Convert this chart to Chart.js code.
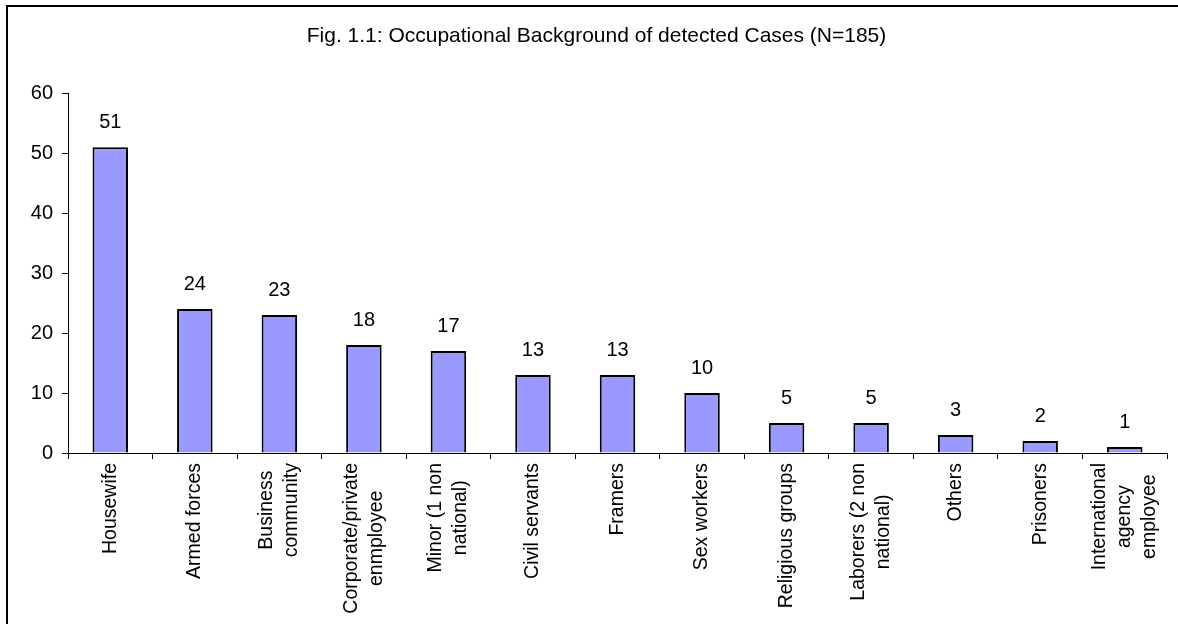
<!DOCTYPE html>
<html>
<head>
<meta charset="utf-8">
<script src="https://cdn.jsdelivr.net/npm/chart.js@4.4.0/dist/chart.umd.min.js"></script>
<style>
  html, body { margin: 0; padding: 0; background: #fff; overflow: hidden; }
  #wrap { position: relative; width: 1178px; height: 624px; }
  #frame { position: absolute; left: 6px; top: 5px; width: 1200px; height: 700px;
           border-left: 2px solid #000; border-top: 2px solid #000; }
  canvas { position: absolute; left: 0; top: 0; }
</style>
</head>
<body>
<div id="wrap">
  <div id="frame"></div>
  <canvas id="myChart" width="1178" height="624"></canvas>
</div>
<script>
const categories = [
  'Housewife',
  'Armed forces',
  ['Business', 'community'],
  ['Corporate/private', 'enmployee'],
  ['Minor (1 non', 'national)'],
  'Civil servants',
  'Framers',
  'Sex workers',
  'Religious groups',
  ['Laborers (2 non', 'national)'],
  'Others',
  'Prisoners',
  ['International', 'agency', 'employee']
]
const cases = [51, 24, 23, 18, 17, 13, 13, 10, 5, 5, 3, 2, 1]
const yTicks = [0, 10, 20, 30, 40, 50, 60]

const fontFamily = '"Liberation Sans", Arial, sans-serif'

// value labels above each bar
const valueLabels = {
  id: 'valueLabels',
  afterDatasetsDraw(chart) {
    const ctx = chart.ctx
    const meta = chart.getDatasetMeta(0)
    ctx.save()
    ctx.font = '20px ' + fontFamily
    ctx.fillStyle = '#000'
    ctx.textAlign = 'center'
    ctx.textBaseline = 'middle'
    meta.data.forEach((bar, i) => {
      ctx.fillText(String(cases[i]), bar.x, bar.y - 25)
    })
    ctx.restore()
  }
}

// rotated category labels, each line centred like the original
const categoryLabels = {
  id: 'categoryLabels',
  afterDraw(chart) {
    const ctx = chart.ctx
    const xs = chart.scales.x
    const lineGap = 25
    ctx.save()
    ctx.font = '19.5px ' + fontFamily
    ctx.fillStyle = '#000'
    ctx.textAlign = 'center'
    ctx.textBaseline = 'middle'
    categories.forEach((label, i) => {
      const lines = Array.isArray(label) ? label : [label]
      const w = Math.max(...lines.map(l => ctx.measureText(l).width))
      const px = xs.getPixelForTick(i)
      const cy = xs.top + 10 + w / 2
      lines.forEach((line, j) => {
        ctx.save()
        ctx.translate(px + (j - (lines.length - 1) / 2) * lineGap, cy)
        ctx.rotate(-Math.PI / 2)
        ctx.fillText(line, 0, 0)
        ctx.restore()
      })
    })
    ctx.restore()
  }
}

const ctx = document.getElementById('myChart')

new Chart(ctx, {
  type: 'bar',
  data: {
    labels: categories,
    datasets: [{
      data: cases,
      backgroundColor: '#9999FF',
      borderColor: '#000',
      borderWidth: 2,
      categoryPercentage: 1,
      barPercentage: 0.42
    }]
  },
  options: {
    responsive: false,
    animation: false,
    layout: {
      padding: { left: 26, right: 11, top: 0, bottom: 0 }
    },
    plugins: {
      legend: { display: false },
      tooltip: { enabled: false },
      title: {
        display: true,
        text: 'Fig. 1.1: Occupational Background of detected Cases (N=185)',
        color: '#000',
        font: { family: fontFamily, size: 21, weight: 'normal', lineHeight: 1.2 },
        padding: { top: 24, bottom: 44 }
      }
    },
    scales: {
      x: {
        grid: {
          offset: true,
          drawOnChartArea: false,
          drawTicks: true,
          tickLength: 6,
          color: '#000'
        },
        border: { color: '#000', width: 1 },
        ticks: { display: false, autoSkip: false },
        afterFit(scale) {
          scale.height = 171
          scale.paddingLeft = 0
          scale.paddingRight = 0
        }
      },
      y: {
        min: 0,
        max: 60,
        afterBuildTicks(scale) {
          scale.ticks = yTicks.map(v => ({ value: v }))
        },
        grid: {
          drawOnChartArea: false,
          drawTicks: true,
          tickLength: 6,
          color: '#000'
        },
        border: { color: '#000', width: 1 },
        ticks: {
          color: '#000',
          font: { family: fontFamily, size: 20 },
          padding: 9
        },
        afterFit(scale) { scale.width = 42 }
      }
    }
  },
  plugins: [valueLabels, categoryLabels]
})
</script>
</body>
</html>
